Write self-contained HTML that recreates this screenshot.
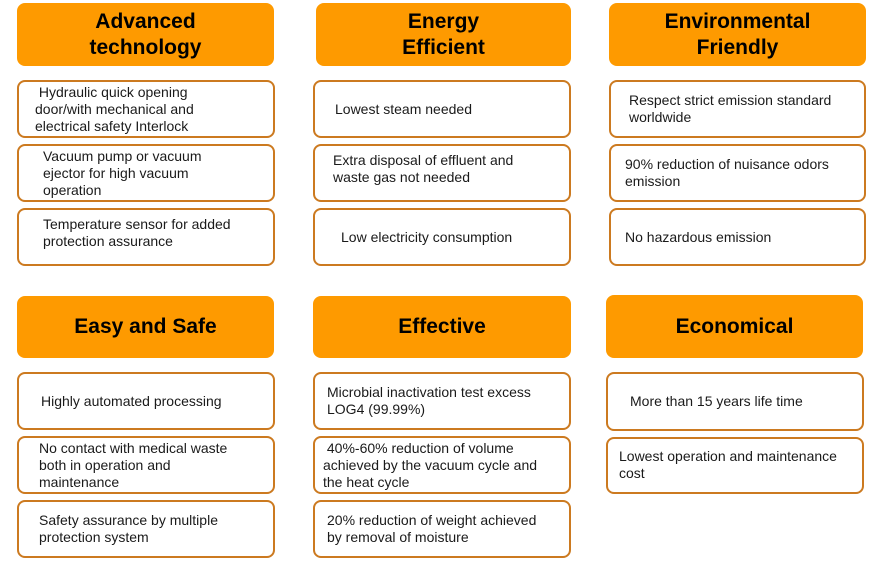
<!DOCTYPE html>
<html><head><meta charset="utf-8"><style>
body{margin:0;width:885px;height:565px;background:#fff;position:relative;overflow:hidden;font-family:"Liberation Sans",Arial,sans-serif}
.h{position:absolute;background:#fe9a00;border-radius:8px;display:flex;align-items:center;justify-content:center;text-align:center;font-weight:bold;font-size:21px;line-height:26px;color:#000}
.b{position:absolute;border:2px solid #cc7a20;border-radius:8px;box-sizing:border-box;font-size:14px;line-height:17px;color:#1a1a1a;display:flex;align-items:center;padding:0 4px 0 22px;white-space:nowrap}
</style></head><body>
<div class="h" style="left:17px;top:3px;width:257px;height:63px">Advanced<br>technology</div>
<div class="b" style="left:17px;top:80px;width:258px;height:58px;padding-left:16px">&nbsp;Hydraulic quick opening<br>door/with mechanical and<br>electrical safety Interlock</div>
<div class="b" style="left:17px;top:144px;width:258px;height:58px;padding-left:24px">Vacuum pump or vacuum<br>ejector for high vacuum<br>operation</div>
<div class="b" style="left:17px;top:208px;width:258px;height:58px;align-items:flex-start;padding-top:6px;padding-left:24px">Temperature sensor for added<br>protection assurance</div>

<div class="h" style="left:316px;top:3px;width:255px;height:63px">Energy<br>Efficient</div>
<div class="b" style="left:313px;top:80px;width:258px;height:58px;padding-left:20px">Lowest steam needed</div>
<div class="b" style="left:313px;top:144px;width:258px;height:58px;align-items:flex-start;padding-top:6px;padding-left:18px">Extra disposal of effluent and<br>waste gas not needed</div>
<div class="b" style="left:313px;top:208px;width:258px;height:58px;padding-left:26px">Low electricity consumption</div>

<div class="h" style="left:609px;top:3px;width:257px;height:63px">Environmental<br>Friendly</div>
<div class="b" style="left:609px;top:80px;width:257px;height:58px;padding-left:18px">Respect strict emission standard<br>worldwide</div>
<div class="b" style="left:609px;top:144px;width:257px;height:58px;padding-left:14px">90% reduction of nuisance odors<br>emission</div>
<div class="b" style="left:609px;top:208px;width:257px;height:58px;padding-left:14px">No hazardous emission</div>

<div class="h" style="left:17px;top:296px;width:257px;height:62px">Easy and Safe</div>
<div class="b" style="left:17px;top:372px;width:258px;height:58px">Highly automated processing</div>
<div class="b" style="left:17px;top:436px;width:258px;height:58px;padding-left:20px">No contact with medical waste<br>both in operation and<br>maintenance</div>
<div class="b" style="left:17px;top:500px;width:258px;height:58px;padding-left:20px">Safety assurance by multiple<br>protection system</div>

<div class="h" style="left:313px;top:296px;width:258px;height:62px">Effective</div>
<div class="b" style="left:313px;top:372px;width:258px;height:58px;padding-left:12px">Microbial inactivation test excess<br>LOG4 (99.99%)</div>
<div class="b" style="left:313px;top:436px;width:258px;height:58px;padding-left:8px">&nbsp;40%-60% reduction of volume<br>achieved by the vacuum cycle and<br>the heat cycle</div>
<div class="b" style="left:313px;top:500px;width:258px;height:58px;padding-left:12px">20% reduction of weight achieved<br>by removal of moisture</div>

<div class="h" style="left:606px;top:295px;width:257px;height:63px">Economical</div>
<div class="b" style="left:606px;top:372px;width:258px;height:59px;padding-left:22px">More than 15 years life time</div>
<div class="b" style="left:606px;top:437px;width:258px;height:57px;align-items:flex-start;padding-top:9px;padding-left:11px">Lowest operation and maintenance<br>cost</div>
</body></html>
